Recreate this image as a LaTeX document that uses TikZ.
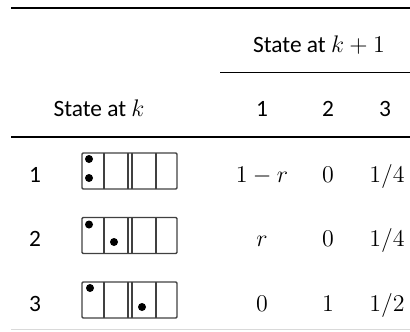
\documentclass[tikz,border=0pt]{standalone}
\usepackage{fontspec}
\setmainfont{Carlito}
\usepackage{tikz}

\tikzset{
  txt/.style={anchor=base,inner sep=0pt,font=\fontsize{11.7}{14}\selectfont},
  toprule/.style={line width=0.9pt},
  midrule/.style={line width=0.55pt},
  cellbox/.style={draw=black!75,line width=0.7pt},
  ball/.style={fill=black}
}

\begin{document}
\begin{tikzpicture}[x=0.5pt,y=-0.5pt]
  \useasboundingbox (0,0) rectangle (410,331);
  % rules
  \draw[toprule] (11,8) -- (410,8);
  \node[txt] (next) at (319,53) {State at $k+1$};
  \draw[midrule] (220,72.5) -- (410,72.5);
  \node[txt] (now) at (99,117) {State at $k$};
  \foreach \c/\x in {1/262,2/328,3/385}
    \node[txt] (col\c) at (\x,117) {\c};
  \draw[midrule] (11,137) -- (410,137);

  % the three boxes
  \foreach \r/\t in {1/153,2/217.5,3/282}{
    \node[txt] (row\r) at (35,\t+29) {\r};
    \draw[cellbox,rounded corners=0.6pt] (82,\t) rectangle (177,\t+36);
    \foreach \x in {104,128,132,156}
      \draw[cellbox] (\x,\t) -- (\x,\t+36);
  }
  \fill[ball] (89,159) circle[radius=2pt] (89,178) circle[radius=2pt];
  \fill[ball] (89,224.5) circle[radius=2pt] (114,242) circle[radius=2pt];
  \fill[ball] (90,288) circle[radius=2pt] (142,307) circle[radius=2pt];

  % transition values
  \node[txt] (p11) at (262,182) {$1-r$};
  \node[txt] (p12) at (328,182) {$0$};
  \node[txt] (p13) at (387,182) {$1/4$};
  \node[txt] (p21) at (262,246.5) {$r$};
  \node[txt] (p22) at (328,246.5) {$0$};
  \node[txt] (p23) at (387,246.5) {$1/4$};
  \node[txt] (p31) at (262,311) {$0$};
  \node[txt] (p32) at (328,311) {$1$};
  \node[txt] (p33) at (387,311) {$1/2$};

  \draw[black!15,line width=0.5pt] (11,329.5) -- (410,329.5);
\end{tikzpicture}
\end{document}
